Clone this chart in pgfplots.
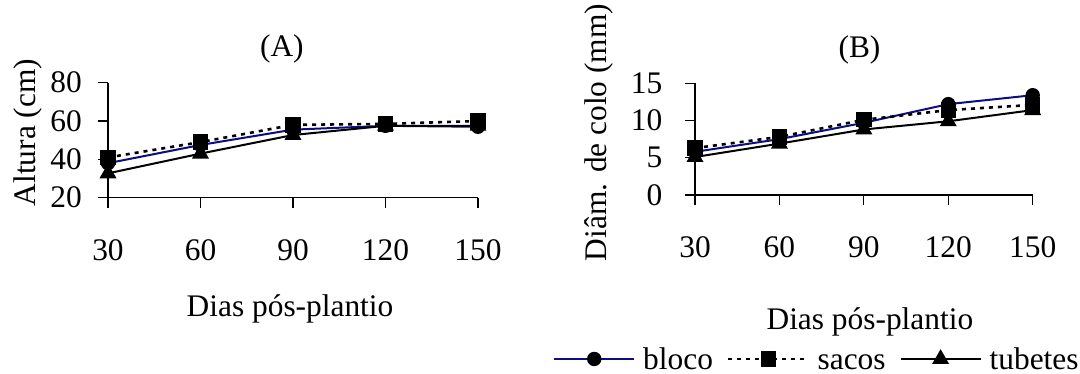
\documentclass[border=0pt]{standalone}
\usepackage{fontspec}
\setmainfont{Liberation Serif}
\usepackage{pgfplots}
\pgfplotsset{compat=1.18}
\definecolor{navyblue}{rgb}{0.05,0.05,0.5}
\pgfplotsset{
  common/.style={
    scale only axis,
    axis x line=bottom, axis y line=left,
    axis line style={-, line width=0.6pt},
    tick style={black, line width=0.6pt},
    tick align=outside,
    major tick length=5pt,
    xmin=30, xmax=150,
    xtick={30,60,90,120,150},
    /pgf/number format/assume math mode=true,
    xticklabel style={yshift=-10.5pt},
    yticklabel style={xshift=-2.7pt},
    every axis plot/.append style={line width=1pt},
    clip=false,
  },
  sbloco/.style={navyblue, solid, mark=*, mark size=3.1pt, mark options={black, solid, fill=black}},
  ssacos/.style={black, dash pattern=on 2pt off 2.5pt, line width=1.3pt, mark=square*, mark size=3.2pt, mark options={black, solid, fill=black}},
  stubetes/.style={black, solid, mark=triangle*, mark size=3.9pt, mark options={black, solid, fill=black}},
  legend image code/.code={\draw[#1, mark repeat=2, mark phase=2] plot coordinates {(0pt,0pt) (20pt,0pt) (40pt,0pt)};},
}
\begin{document}
\fontsize{15.7}{19}\selectfont
\begin{tikzpicture}
\useasboundingbox (0pt,0pt) rectangle (540pt,187pt);
\begin{axis}[common,
  at={(54pt,88.15pt)}, anchor=south west,
  width=185pt, height=57.5pt,
  ymin=20, ymax=80, ytick={20,40,60,80},
  title={(A)}, title style={at={(axis description cs:0.47,1.19)}, anchor=center, inner sep=0pt},
  xlabel={Dias pós-plantio}, xlabel style={at={(axis description cs:0.492,-1.037)}, anchor=base, inner sep=0pt},
  ylabel={Altura (cm)}, ylabel style={at={(axis description cs:-0.216,0.567)}, anchor=center, inner sep=0pt},
]
\addplot[sbloco] coordinates {(30,38) (60,47.5) (90,55.5) (120,57.5) (150,57)};
\addplot[ssacos] coordinates {(30,41) (60,49) (90,58) (120,58.5) (150,60)};
\addplot[stubetes] coordinates {(30,32.7) (60,43) (90,52.7) (120,57.5) (150,57.5)};
\end{axis}
\begin{axis}[common,
  at={(347.5pt,89.5pt)}, anchor=south west,
  width=168.85pt, height=55.85pt,
  ymin=0, ymax=15, ytick={0,5,10,15},
  yticklabel style={xshift=-3.2pt},
  title={(B)}, title style={at={(axis description cs:0.487,1.19)}, anchor=center, inner sep=0pt},
  xlabel={Dias pós-plantio}, xlabel style={at={(axis description cs:0.518,-1.2)}, anchor=base, inner sep=0pt},
  ylabel={Diâm. de colo (mm)}, ylabel style={at={(axis description cs:-0.284,0.560)}, anchor=center, inner sep=0pt},
  legend columns=-1,
  legend style={at={(axis description cs:0.358,-1.468)}, anchor=center, draw=none, fill=none, inner sep=0pt,
    nodes={inner sep=0pt, text height=0.72em, text depth=0.05em},
    /tikz/every odd column/.append style={column sep=4pt},
    /tikz/every even column/.append style={column sep=7pt}},
]
\addplot[sbloco] coordinates {(30,5.8) (60,7.5) (90,9.7) (120,12.2) (150,13.4)};
\addplot[ssacos] coordinates {(30,6.3) (60,7.8) (90,10.1) (120,11.4) (150,12.1)};
\addplot[stubetes] coordinates {(30,5.1) (60,6.9) (90,8.8) (120,9.9) (150,11.4)};
\legend{bloco, sacos, tubetes}
\end{axis}
\end{tikzpicture}
\end{document}
